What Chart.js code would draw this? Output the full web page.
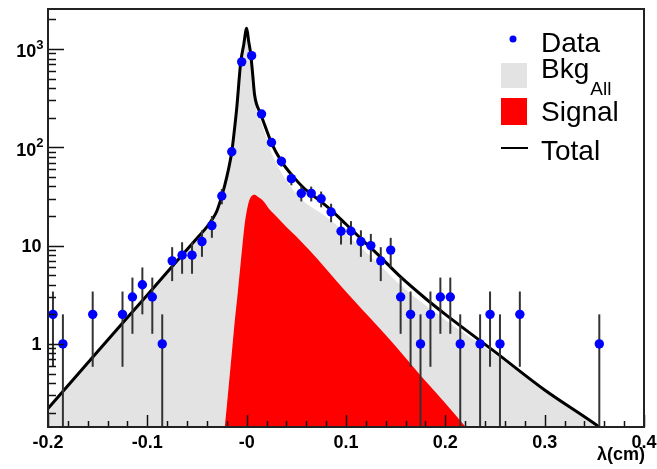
<!DOCTYPE html>
<html>
<head>
<meta charset="utf-8">
<script src="https://cdn.jsdelivr.net/npm/chart.js@4.4.0/dist/chart.umd.min.js"></script>
<style>
html, body { margin: 0; padding: 0; background: #fff; }
</style>
</head>
<body>
<canvas id="myChart" width="657" height="469"></canvas>
<script>
// measured events per 0.01 cm bin (bin centre)
var dataX = [-0.195, -0.185, -0.155, -0.125, -0.115, -0.105, -0.095, -0.085, -0.075, -0.065,
    -0.055, -0.045, -0.035, -0.025, -0.015, -0.005, 0.005, 0.015, 0.025, 0.035,
    0.045, 0.055, 0.065, 0.075, 0.085, 0.095, 0.105, 0.115, 0.125, 0.135,
    0.145, 0.155, 0.165, 0.175, 0.185, 0.195, 0.205, 0.215, 0.235, 0.245,
    0.255, 0.275, 0.355];
var dataN = [2, 1, 2, 2, 3, 4, 3, 1, 7, 8,
    8, 11, 16, 32, 90, 740, 855, 218, 112, 72,
    48, 34, 34, 30, 22, 14, 14, 11, 10, 7,
    9, 3, 2, 1, 2, 3, 3, 1, 1, 2,
    1, 2, 1];

// fit curves
var totX = [-0.2, -0.15, -0.1, -0.07, -0.05, -0.04, -0.035, -0.03, -0.025, -0.02, -0.015, -0.0125, -0.01, -0.006, -0.003, 0.0,
    0.002, 0.004, 0.006, 0.008, 0.014, 0.02, 0.025, 0.035, 0.045, 0.057, 0.073, 0.085, 0.1, 0.115,
    0.135, 0.155, 0.18, 0.2, 0.25, 0.3, 0.35, 0.4];
var totY = [0.22, 0.84, 3.15, 7.0, 11.9, 15.5, 18.3, 22.5, 32, 50, 90, 145, 250, 730, 1100, 1620,
    1200, 900, 560, 340, 220, 150, 110, 72, 53, 39, 29, 23, 16.5, 11.8,
    7.6, 4.8, 2.9, 2.0, 0.83, 0.34, 0.155, 0.065];

var bkgX = totX;
var bkgY = [0.22, 0.84, 3.15, 7.0, 11.9, 15.5, 18.3, 22.5, 32, 50, 89, 143, 247, 723, 1085, 1600,
    1170, 870, 528, 307, 190, 124, 88, 55, 39, 28.5, 22, 18, 13.1, 9.5,
    6.2, 3.95, 2.47, 1.75, 0.78, 0.33, 0.155, 0.065];

var sigX = [-0.024, -0.022, -0.018, -0.015, -0.012, -0.009, -0.005, -0.002, 0.001, 0.004, 0.008, 0.012, 0.016,
    0.024, 0.03, 0.04, 0.05, 0.063, 0.08, 0.1, 0.134, 0.15, 0.18, 0.2, 0.22, 0.23];
var sigY = [0.1, 0.145, 0.38, 0.8, 1.7, 3.3, 8.5, 16.5, 25, 31, 33, 31, 29,
    22.7, 19.8, 15.5, 12.4, 9.0, 5.8, 3.4, 1.44, 0.95, 0.42, 0.25, 0.145, 0.11];

var xTicks = [-0.2, -0.1, 0, 0.1, 0.2, 0.3, 0.4];
var xTickLabels = ['-0.2', '-0.1', '-0', '0.1', '0.2', '0.3', '0.4'];
var yTicks = [1, 10, 100, 1000];
var yTickLabels = [['1', ''], ['10', ''], ['10', '2'], ['10', '3']];

var FONT = '"Liberation Sans", Arial, sans-serif';

function pts(xs, ys) {
    return xs.map((x, i) => ({ x: x, y: ys[i] }));
}

var decor = {
    id: 'decor',
    beforeDatasetDraw(chart, args) {
        if (args.index !== 0) return;
        // poisson error bars under the data markers
        let ctx = chart.ctx, xs = chart.scales.x, ys = chart.scales.y, a = chart.chartArea;
        ctx.save();
        ctx.beginPath();
        ctx.rect(a.left, a.top, a.right - a.left, a.bottom - a.top);
        ctx.clip();
        ctx.strokeStyle = '#333';
        ctx.lineWidth = 2;
        for (let i = 0; i < dataX.length; i++) {
            let n = dataN[i], e = Math.sqrt(n);
            let px = xs.getPixelForValue(dataX[i]);
            let top = ys.getPixelForValue(n + e);
            let bot = (n - e > 0) ? ys.getPixelForValue(n - e) : a.bottom;
            ctx.beginPath();
            ctx.moveTo(px, top);
            ctx.lineTo(px, bot);
            ctx.stroke();
        }
        ctx.restore();
    },
    afterDatasetsDraw(chart) {
        let ctx = chart.ctx, xs = chart.scales.x, ys = chart.scales.y, a = chart.chartArea;
        ctx.save();
        ctx.strokeStyle = '#111';
        ctx.lineWidth = 1.5;
        // y ticks (log), pointing into the frame
        for (let p = -1; p <= 3; p++) {
            for (let k = 1; k <= 9; k++) {
                let v = k * Math.pow(10, p);
                if (v < ys.min || v > ys.max) continue;
                let py = Math.round(ys.getPixelForValue(v)) + 0.5;
                ctx.beginPath();
                ctx.moveTo(a.left, py);
                ctx.lineTo(a.left + (k === 1 ? 16 : 8), py);
                ctx.stroke();
            }
        }
        // x ticks every 0.02
        for (let i = 0; i <= 30; i++) {
            let px = Math.round(xs.getPixelForValue(-0.2 + i * 0.02)) + 0.5;
            ctx.beginPath();
            ctx.moveTo(px, a.bottom);
            ctx.lineTo(px, a.bottom - (i % 5 === 0 ? 12 : 6));
            ctx.stroke();
        }
        ctx.lineWidth = 2;
        ctx.strokeStyle = '#222';
        ctx.strokeRect(a.left, a.top, a.right - a.left, a.bottom - a.top);
        ctx.restore();
    },
    afterDraw(chart) {
        let ctx = chart.ctx, ys = chart.scales.y;
        ctx.save();
        ctx.fillStyle = '#000';
        ctx.textBaseline = 'middle';
        ctx.textAlign = 'right';
        // y labels with superscripts
        yTicks.forEach((v, i) => {
            let py = ys.getPixelForValue(v);
            let base = yTickLabels[i][0], sup = yTickLabels[i][1];
            if (sup) {
                ctx.font = 'bold 13px ' + FONT;
                ctx.fillText(sup, 43.5, py - 4);
                let w = ctx.measureText(sup).width;
                ctx.font = 'bold 18px ' + FONT;
                ctx.fillText(base, 43.5 - w, py + 3.5);
            } else {
                ctx.font = 'bold 18px ' + FONT;
                ctx.fillText(base, 41.5, py + 1.5);
            }
        });
        // axis title
        ctx.textBaseline = 'alphabetic';
        ctx.font = 'bold 18px ' + FONT;
        ctx.fillText('\u03bb(cm)', 645, 460);

        // legend
        ctx.textAlign = 'left';
        ctx.fillStyle = '#0000ff';
        ctx.beginPath();
        ctx.arc(513, 39, 3.5, 0, Math.PI * 2);
        ctx.fill();
        ctx.fillStyle = '#e3e3e3';
        ctx.fillRect(501, 63, 26, 25);
        ctx.fillStyle = '#ff0000';
        ctx.fillRect(501, 98, 26, 27);
        ctx.strokeStyle = '#000';
        ctx.lineWidth = 2;
        ctx.beginPath();
        ctx.moveTo(501, 148);
        ctx.lineTo(528, 148);
        ctx.stroke();

        ctx.fillStyle = '#000';
        ctx.font = '28px ' + FONT;
        ctx.fillText('Data', 541, 52);
        ctx.fillText('Bkg', 541, 78);
        let bw = ctx.measureText('Bkg').width;
        ctx.font = '19px ' + FONT;
        ctx.fillText('All', 541 + bw + 1, 95);
        ctx.font = '28px ' + FONT;
        ctx.fillText('Signal', 541, 121);
        ctx.fillText('Total', 541, 160);
        ctx.restore();
    }
};

var config = {
    type: 'line',
    data: {
        datasets: [{
            label: 'Data',
            data: pts(dataX, dataN),
            showLine: false,
            pointRadius: 4.7,
            pointBackgroundColor: '#0000ff',
            pointBorderColor: '#0000ff',
            pointBorderWidth: 0
        }, {
            label: 'Total',
            data: pts(totX, totY),
            borderColor: '#000',
            borderWidth: 3,
            pointRadius: 0,
            fill: false,
            cubicInterpolationMode: 'monotone'
        }, {
            label: 'Signal',
            data: pts(sigX, sigY),
            borderWidth: 0,
            borderColor: 'rgba(0,0,0,0)',
            backgroundColor: '#ff0000',
            pointRadius: 0,
            fill: 'start',
            cubicInterpolationMode: 'monotone'
        }, {
            label: 'Bkg',
            data: pts(bkgX, bkgY),
            borderWidth: 0,
            borderColor: 'rgba(0,0,0,0)',
            backgroundColor: '#e3e3e3',
            pointRadius: 0,
            fill: 'start',
            cubicInterpolationMode: 'monotone'
        }]
    },
    options: {
        responsive: false,
        animation: false,
        layout: { padding: { top: 9, right: 13, left: 0, bottom: 0 } },
        plugins: { legend: { display: false }, tooltip: { enabled: false } },
        scales: {
            x: {
                type: 'linear',
                min: -0.2,
                max: 0.4,
                grid: { display: false, drawTicks: false },
                border: { display: false },
                afterBuildTicks: (s) => { s.ticks = xTicks.map(v => ({ value: v })); },
                afterFit: (s) => { s.height = 42; s.paddingLeft = 0; s.paddingRight = 0; },
                ticks: {
                    autoSkip: false,
                    maxRotation: 0,
                    padding: 5,
                    color: '#000',
                    font: { family: FONT, size: 18, weight: 'bold' },
                    callback: (v, i) => xTickLabels[i]
                }
            },
            y: {
                type: 'logarithmic',
                min: 0.143,
                max: 2550,
                grid: { display: false, drawTicks: false },
                border: { display: false },
                ticks: { display: false },
                afterFit: (s) => { s.width = 48; }
            }
        }
    },
    plugins: [decor]
};

var myChart = new Chart(document.getElementById('myChart'), config);
</script>
</body>
</html>
